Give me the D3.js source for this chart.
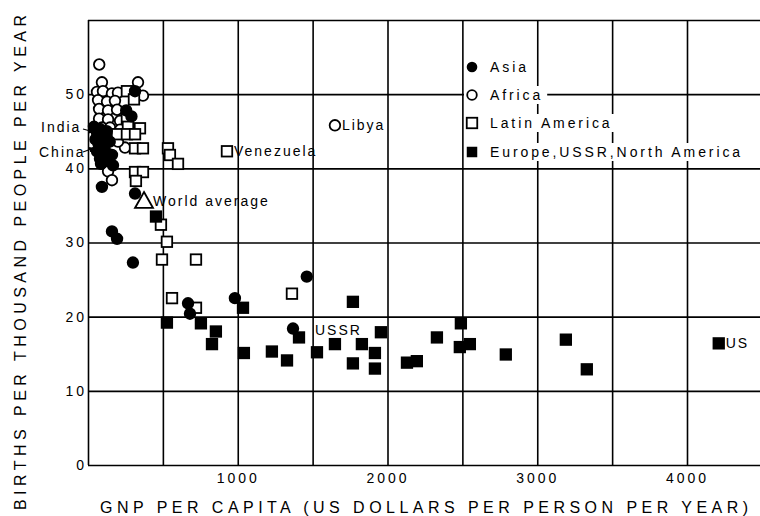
<!DOCTYPE html>
<html>
<head>
<meta charset="utf-8">
<title></title>
<style>
  body { margin: 0; background: #fff; }
  text { font-family: "Liberation Sans", Arial, sans-serif; fill: #000; }
</style>
</head>
<body>
<div id="chart"></div>
<script src="https://d3js.org/d3.v7.min.js"></script>
<script>
const width = 760;
const height = 516;

// GNP per capita (US$), births per thousand
const asia = [
  [40,45.6],[60,44.8],[80,45.3],[100,44.6],[125,45.0],[50,43.9],[70,43.3],[90,43.9],
  [115,43.2],[145,43.6],[60,42.3],[85,42.1],[105,42.5],[130,42.0],[160,41.8],[80,41.3],
  [110,41.0],[87,40.6],[167,40.4],[314,50.4],[255,47.8],[290,47.0],[93,37.5],[314,36.6],
  [160,31.5],[194,30.5],[300,27.3],[668,21.8],[681,20.4],[981,22.5],[1461,25.4],[1369,18.4]
];
const africa = [
  [75,54.0],[93,51.6],[334,51.6],[60,50.3],[100,50.4],[160,50.1],[200,50.2],[367,49.8],
  [67,49.2],[127,49.0],[180,49.1],[74,48.0],[134,47.8],[194,47.9],[74,46.7],[134,46.6],
  [214,46.4],[94,45.5],[147,45.5],[214,45.2],[114,44.4],[174,44.6],[247,42.8],[200,43.6],
  [134,39.6],[160,38.4],[1649,45.8]
];
const latinAmerica = [
  [260,50.4],[307,49.3],[260,46.8],[267,45.6],[347,45.4],[194,44.6],[260,44.6],[314,44.6],
  [314,42.7],[367,42.7],[314,39.5],[367,39.5],[320,38.3],[534,42.7],[547,41.8],[601,40.6],
  [928,42.3],[487,32.4],[527,30.1],[494,27.7],[721,27.7],[561,22.5],[721,21.2],[1362,23.1]
];
const europe = [
  [454,33.5],[527,19.2],[754,19.1],[854,18.0],[828,16.3],[1035,21.2],[1041,15.1],[1228,15.3],
  [1329,14.1],[1409,17.2],[1529,15.2],[1649,16.3],[1769,22.0],[1769,13.7],[1829,16.3],[1916,15.1],
  [1916,13.0],[1956,17.9],[2130,13.8],[2196,14.0],[2330,17.2],[2490,19.1],[2483,15.9],[2550,16.3],
  [2790,14.9],[3191,16.9],[3331,12.9],[4212,16.4]
];
const worldAverage = [374, 35.6];

const xGrid = [0,500,1000,1500,2000,2500,3000,3500,4000,4500];
const xLabels = [1000,2000,3000,4000];
const yGrid = [0,10,20,30,40,50,60];
const yLabels = [0,10,20,30,40,50];

const legendItems = ["Asia", "Africa", "Latin America", "Europe,USSR,North America"];

const svg = d3.select('#chart').append('svg')
  .attr('width', width).attr('height', height);

const x = d3.scaleLinear().domain([0, 4000]).range([88, 687]);
const y = d3.scaleLinear().domain([0, 60]).range([465, 20]);

// grid
const gy = svg.append('g').attr('transform', 'translate(88,0)')
  .call(d3.axisLeft(y).tickValues(yGrid).tickSize(-(width - 88)).tickPadding(3)
    .tickFormat(d => yLabels.includes(d) ? d : ''));
const gx = svg.append('g').attr('transform', 'translate(0,465)')
  .call(d3.axisBottom(x).tickValues(xGrid).tickSize(-(465 - 20)).tickPadding(8)
    .tickFormat(d => xLabels.includes(d) ? d : ''));
[gx, gy].forEach(g => {
  g.select('.domain').remove();
  g.selectAll('.tick line').attr('stroke', '#000').attr('stroke-width', 1.6);
  g.selectAll('.tick text').attr('font-size', 14).style('letter-spacing', '3px')
    .attr('font-family', '"Liberation Sans", Arial, sans-serif').attr('fill', '#000');
});
gy.selectAll('.tick text').attr('dx', 2);

// markers
const r = 5.3, s = 10.5;
function circles(data, filled) {
  svg.append('g').selectAll('circle').data(data).join('circle')
    .attr('cx', d => x(d[0])).attr('cy', d => y(d[1])).attr('r', r)
    .attr('fill', filled ? '#000' : '#fff').attr('stroke', '#000').attr('stroke-width', 1.8);
}
function squares(data, filled) {
  svg.append('g').selectAll('rect').data(data).join('rect')
    .attr('x', d => x(d[0]) - s / 2).attr('y', d => y(d[1]) - s / 2)
    .attr('width', s).attr('height', s)
    .attr('fill', filled ? '#000' : '#fff').attr('stroke', '#000').attr('stroke-width', 1.8);
}
circles(africa, false);
squares(latinAmerica, false);
circles(asia, true);
squares(europe, true);

// world average
const wx = x(worldAverage[0]), wy = y(worldAverage[1]);
svg.append('path')
  .attr('d', `M${wx},${wy - 9}L${wx + 9},${wy + 7}L${wx - 9},${wy + 7}Z`)
  .attr('fill', '#fff').attr('stroke', '#000').attr('stroke-width', 1.8);

function label(txt, px, py, anchor) {
  svg.append('text').attr('x', px).attr('y', py).attr('dy', '0.35em')
    .attr('font-size', 14).style('letter-spacing', '2px')
    .attr('text-anchor', anchor || 'start').text(txt);
}
label('World average', wx + 9, wy);
label('Venezuela', x(928) + 7, y(42.3));
label('Libya', x(1649) + 7, y(45.8));
label('USSR', 315, 330);
label('US', x(4212) + 7, y(16.4));
label('India', 41, 127);
label('China', 39, 152);

// arrows for India / China
svg.append('defs').append('marker').attr('id', 'ah')
  .attr('viewBox', '0 0 6 6').attr('refX', 5).attr('refY', 3)
  .attr('markerWidth', 5).attr('markerHeight', 5).attr('orient', 'auto')
  .append('path').attr('d', 'M0,0L6,3L0,6Z').attr('fill', '#000');
[[83, 129, 94, 132], [83, 152, 94, 148]].forEach(a => {
  svg.append('line').attr('x1', a[0]).attr('y1', a[1]).attr('x2', a[2]).attr('y2', a[3])
    .attr('stroke', '#000').attr('stroke-width', 1.2).attr('marker-end', 'url(#ah)');
});

// legend
const legendY = [67, 95, 123, 152];
const lg = svg.append('g');
legendItems.forEach((name, i) => {
  const row = lg.append('g').attr('transform', `translate(472,${legendY[i]})`);
  const t = row.append('text').attr('x', 18).attr('dy', '0.35em')
    .attr('font-size', 14).style('letter-spacing', '2.9px').text(name);
  const w = t.node().getComputedTextLength();
  row.insert('rect', 'text').attr('x', -8).attr('y', -9).attr('width', w + 30).attr('height', 18)
    .attr('fill', '#fff');
  if (i === 0) row.append('circle').attr('r', r).attr('fill', '#000');
  if (i === 1) row.append('circle').attr('r', r - 0.5).attr('fill', '#fff').attr('stroke', '#000').attr('stroke-width', 1.8);
  if (i === 2) row.append('rect').attr('x', -s / 2).attr('y', -s / 2).attr('width', s).attr('height', s)
    .attr('fill', '#fff').attr('stroke', '#000').attr('stroke-width', 1.8);
  if (i === 3) row.append('rect').attr('x', -s / 2).attr('y', -s / 2).attr('width', s).attr('height', s)
    .attr('fill', '#000');
});

// axis titles
svg.append('text').attr('x', 100).attr('y', 513)
  .attr('font-size', 16).attr('textLength', 648).attr('lengthAdjust', 'spacing')
  .text('GNP PER CAPITA (US DOLLARS PER PERSON PER YEAR)');
svg.append('text').attr('transform', 'translate(26,510) rotate(-90)')
  .attr('font-size', 16).attr('textLength', 495).attr('lengthAdjust', 'spacing')
  .text('BIRTHS PER THOUSAND PEOPLE PER YEAR');
</script>
</body>
</html>
